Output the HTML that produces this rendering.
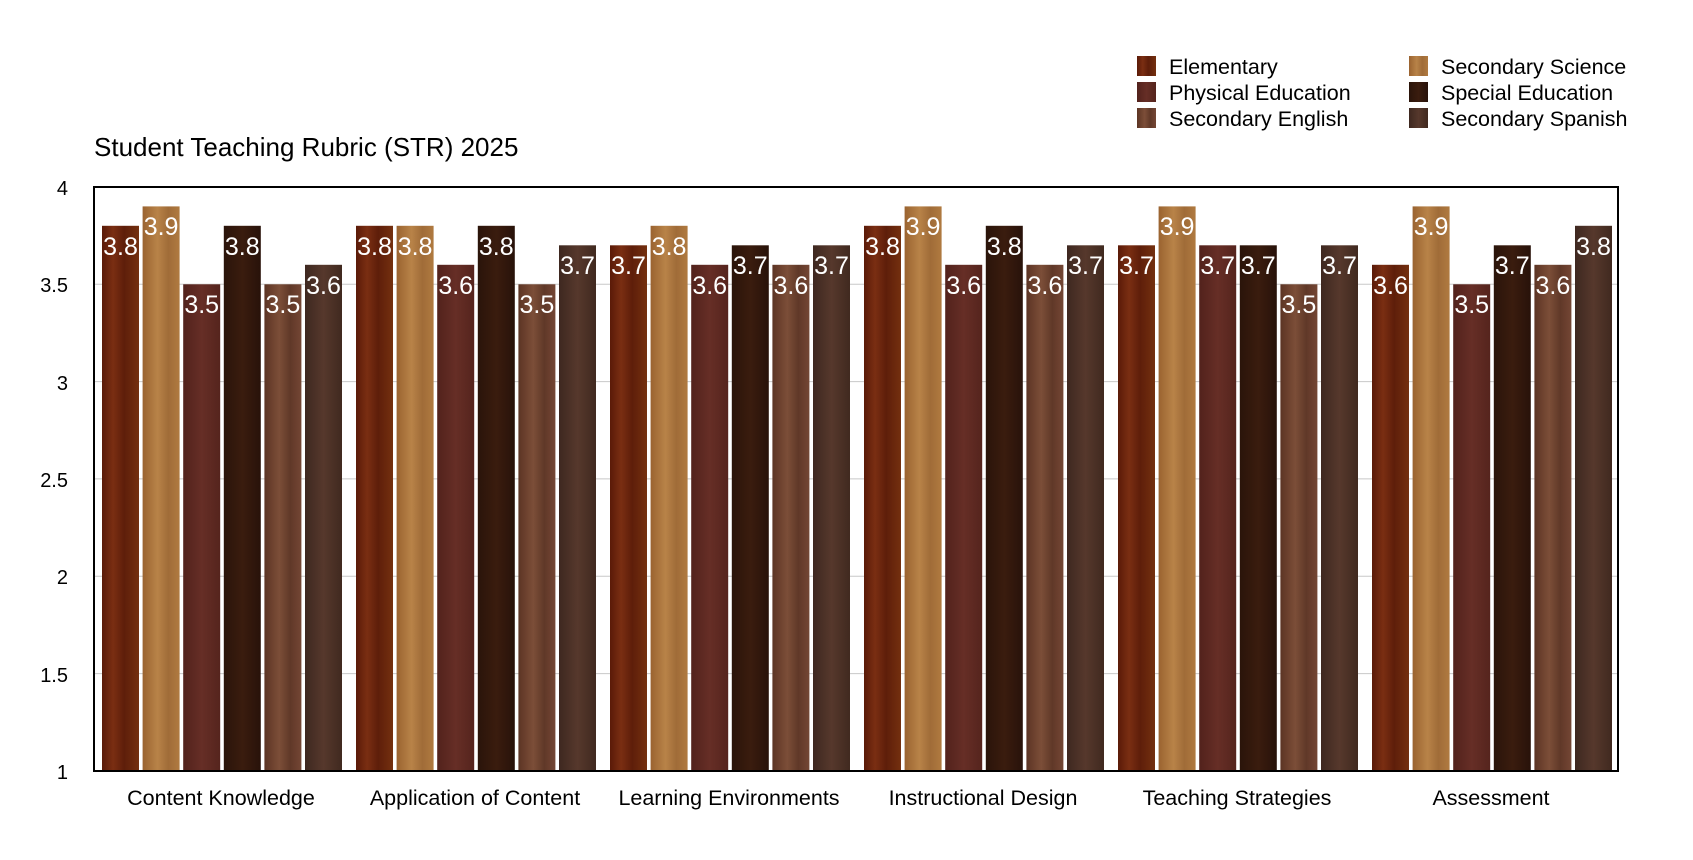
<!DOCTYPE html>
<html><head><meta charset="utf-8"><style>
html,body{margin:0;padding:0;background:#fff;}
svg{display:block;font-family:"Liberation Sans",Arial,sans-serif;}
.v{fill:#fff;font-size:25px;text-anchor:middle;}
.t{font-size:20px;fill:#000;text-anchor:end;}
.c{font-size:21.5px;fill:#000;text-anchor:middle;}
.l{font-size:21.5px;fill:#000;}
</style></head><body>
<svg width="1693" height="860" viewBox="0 0 1693 860">
<defs>
<linearGradient id="gE" x1="0" x2="1"><stop offset="0" stop-color="#5a1a08"/><stop offset=".3" stop-color="#7a2e12"/><stop offset=".6" stop-color="#5e1e0a"/><stop offset="1" stop-color="#74300f"/></linearGradient>
<linearGradient id="gS" x1="0" x2="1"><stop offset="0" stop-color="#9a6330"/><stop offset=".4" stop-color="#b88348"/><stop offset=".7" stop-color="#a06c38"/><stop offset="1" stop-color="#b07a40"/></linearGradient>
<linearGradient id="gP" x1="0" x2="1"><stop offset="0" stop-color="#52221c"/><stop offset=".5" stop-color="#662e26"/><stop offset="1" stop-color="#55241d"/></linearGradient>
<linearGradient id="gX" x1="0" x2="1"><stop offset="0" stop-color="#2a140a"/><stop offset=".5" stop-color="#3a1c0e"/><stop offset="1" stop-color="#28120a"/></linearGradient>
<linearGradient id="gN" x1="0" x2="1"><stop offset="0" stop-color="#5c3424"/><stop offset=".4" stop-color="#7c4e38"/><stop offset=".7" stop-color="#603828"/><stop offset="1" stop-color="#744634"/></linearGradient>
<linearGradient id="gA" x1="0" x2="1"><stop offset="0" stop-color="#3e2820"/><stop offset=".5" stop-color="#56382c"/><stop offset="1" stop-color="#40291f"/></linearGradient>
</defs>
<text x="94" y="156" style="font-size:26px">Student Teaching Rubric (STR) 2025</text>
<!-- legend -->
<rect x="1137" y="56" width="19" height="20" fill="url(#gE)"/><text class="l" x="1169" y="74">Elementary</text>
<rect x="1137" y="82" width="19" height="20" fill="url(#gP)"/><text class="l" x="1169" y="100">Physical Education</text>
<rect x="1137" y="108" width="19" height="20" fill="url(#gN)"/><text class="l" x="1169" y="126">Secondary English</text>
<rect x="1409" y="56" width="19" height="20" fill="url(#gS)"/><text class="l" x="1441" y="74">Secondary Science</text>
<rect x="1409" y="82" width="19" height="20" fill="url(#gX)"/><text class="l" x="1441" y="100">Special Education</text>
<rect x="1409" y="108" width="19" height="20" fill="url(#gA)"/><text class="l" x="1441" y="126">Secondary Spanish</text>
<!-- grid -->
<g stroke="#c8c8c8" stroke-width="1">
<line x1="94" x2="1618" y1="284.3" y2="284.3"/><line x1="94" x2="1618" y1="381.6" y2="381.6"/><line x1="94" x2="1618" y1="478.9" y2="478.9"/><line x1="94" x2="1618" y1="576.3" y2="576.3"/><line x1="94" x2="1618" y1="673.6" y2="673.6"/>
</g>
<g>
<text class="t" x="68" y="195">4</text><text class="t" x="68" y="292">3.5</text><text class="t" x="68" y="390">3</text><text class="t" x="68" y="487">2.5</text><text class="t" x="68" y="584">2</text><text class="t" x="68" y="682">1.5</text><text class="t" x="68" y="779">1</text>
</g>
<!-- bars g0 -->
<rect x="102" y="225.8" width="37" height="545.2" fill="url(#gE)"/><text class="v" x="120.5" y="255">3.8</text>
<rect x="142.6" y="206.4" width="37" height="564.6" fill="url(#gS)"/><text class="v" x="161.1" y="235">3.9</text>
<rect x="183.2" y="284.3" width="37" height="486.7" fill="url(#gP)"/><text class="v" x="201.7" y="313">3.5</text>
<rect x="223.8" y="225.8" width="37" height="545.2" fill="url(#gX)"/><text class="v" x="242.3" y="255">3.8</text>
<rect x="264.4" y="284.3" width="37" height="486.7" fill="url(#gN)"/><text class="v" x="282.9" y="313">3.5</text>
<rect x="305" y="264.8" width="37" height="506.2" fill="url(#gA)"/><text class="v" x="323.5" y="294">3.6</text>
<!-- g1 -->
<rect x="356" y="225.8" width="37" height="545.2" fill="url(#gE)"/><text class="v" x="374.5" y="255">3.8</text>
<rect x="396.6" y="225.8" width="37" height="545.2" fill="url(#gS)"/><text class="v" x="415.1" y="255">3.8</text>
<rect x="437.2" y="264.8" width="37" height="506.2" fill="url(#gP)"/><text class="v" x="455.7" y="294">3.6</text>
<rect x="477.8" y="225.8" width="37" height="545.2" fill="url(#gX)"/><text class="v" x="496.3" y="255">3.8</text>
<rect x="518.4" y="284.3" width="37" height="486.7" fill="url(#gN)"/><text class="v" x="536.9" y="313">3.5</text>
<rect x="559" y="245.3" width="37" height="525.7" fill="url(#gA)"/><text class="v" x="577.5" y="274">3.7</text>
<!-- g2 -->
<rect x="610" y="245.3" width="37" height="525.7" fill="url(#gE)"/><text class="v" x="628.5" y="274">3.7</text>
<rect x="650.6" y="225.8" width="37" height="545.2" fill="url(#gS)"/><text class="v" x="669.1" y="255">3.8</text>
<rect x="691.2" y="264.8" width="37" height="506.2" fill="url(#gP)"/><text class="v" x="709.7" y="294">3.6</text>
<rect x="731.8" y="245.3" width="37" height="525.7" fill="url(#gX)"/><text class="v" x="750.3" y="274">3.7</text>
<rect x="772.4" y="264.8" width="37" height="506.2" fill="url(#gN)"/><text class="v" x="790.9" y="294">3.6</text>
<rect x="813" y="245.3" width="37" height="525.7" fill="url(#gA)"/><text class="v" x="831.5" y="274">3.7</text>
<!-- g3 -->
<rect x="864" y="225.8" width="37" height="545.2" fill="url(#gE)"/><text class="v" x="882.5" y="255">3.8</text>
<rect x="904.6" y="206.4" width="37" height="564.6" fill="url(#gS)"/><text class="v" x="923.1" y="235">3.9</text>
<rect x="945.2" y="264.8" width="37" height="506.2" fill="url(#gP)"/><text class="v" x="963.7" y="294">3.6</text>
<rect x="985.8" y="225.8" width="37" height="545.2" fill="url(#gX)"/><text class="v" x="1004.3" y="255">3.8</text>
<rect x="1026.4" y="264.8" width="37" height="506.2" fill="url(#gN)"/><text class="v" x="1044.9" y="294">3.6</text>
<rect x="1067" y="245.3" width="37" height="525.7" fill="url(#gA)"/><text class="v" x="1085.5" y="274">3.7</text>
<!-- g4 -->
<rect x="1118" y="245.3" width="37" height="525.7" fill="url(#gE)"/><text class="v" x="1136.5" y="274">3.7</text>
<rect x="1158.6" y="206.4" width="37" height="564.6" fill="url(#gS)"/><text class="v" x="1177.1" y="235">3.9</text>
<rect x="1199.2" y="245.3" width="37" height="525.7" fill="url(#gP)"/><text class="v" x="1217.7" y="274">3.7</text>
<rect x="1239.8" y="245.3" width="37" height="525.7" fill="url(#gX)"/><text class="v" x="1258.3" y="274">3.7</text>
<rect x="1280.4" y="284.3" width="37" height="486.7" fill="url(#gN)"/><text class="v" x="1298.9" y="313">3.5</text>
<rect x="1321" y="245.3" width="37" height="525.7" fill="url(#gA)"/><text class="v" x="1339.5" y="274">3.7</text>
<!-- g5 -->
<rect x="1372" y="264.8" width="37" height="506.2" fill="url(#gE)"/><text class="v" x="1390.5" y="294">3.6</text>
<rect x="1412.6" y="206.4" width="37" height="564.6" fill="url(#gS)"/><text class="v" x="1431.1" y="235">3.9</text>
<rect x="1453.2" y="284.3" width="37" height="486.7" fill="url(#gP)"/><text class="v" x="1471.7" y="313">3.5</text>
<rect x="1493.8" y="245.3" width="37" height="525.7" fill="url(#gX)"/><text class="v" x="1512.3" y="274">3.7</text>
<rect x="1534.4" y="264.8" width="37" height="506.2" fill="url(#gN)"/><text class="v" x="1552.9" y="294">3.6</text>
<rect x="1575" y="225.8" width="37" height="545.2" fill="url(#gA)"/><text class="v" x="1593.5" y="255">3.8</text>
<!-- frame -->
<rect x="94" y="187" width="1524" height="584" fill="none" stroke="#000" stroke-width="2"/>
<text class="c" x="221" y="805">Content Knowledge</text>
<text class="c" x="475" y="805">Application of Content</text>
<text class="c" x="729" y="805">Learning Environments</text>
<text class="c" x="983" y="805">Instructional Design</text>
<text class="c" x="1237" y="805">Teaching Strategies</text>
<text class="c" x="1491" y="805">Assessment</text>
</svg>
</body></html>
